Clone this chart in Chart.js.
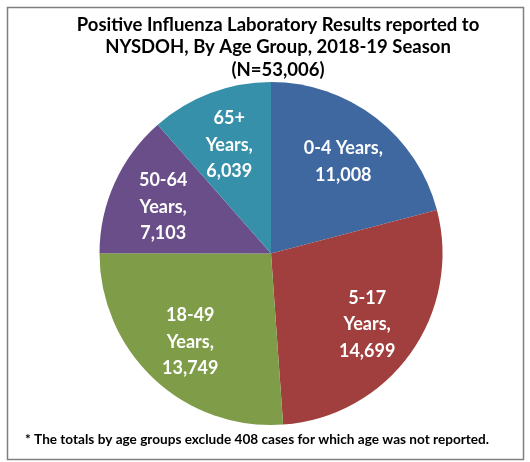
<!DOCTYPE html>
<html>
<head>
<meta charset="utf-8">
<script src="https://cdn.jsdelivr.net/npm/chart.js@4/dist/chart.umd.min.js"></script>
<style>
    body { margin: 0; background: #fff; }
    #wrap { width: 530px; height: 462px; }
</style>
</head>
<body>
<div id="wrap"><canvas id="pie"></canvas></div>
<script>
// data
const groups = ['0-4 Years,', '5-17 Years,', '18-49 Years,', '50-64 Years,', '65+ Years,'];
const counts = [11008, 14699, 13749, 7103, 6039];
const colors = ['#3f68a0', '#a03f3e', '#7f9c48', '#6a4e89', '#3790a9'];
// how each label is broken into lines
const labelLines = [
    ['0-4 Years,', '11,008'],
    ['5-17', 'Years,', '14,699'],
    ['18-49', 'Years,', '13,749'],
    ['50-64', 'Years,', '7,103'],
    ['65+', 'Years,', '6,039']
];
const titleLines = [
    'Positive Influenza Laboratory Results reported to',
    'NYSDOH, By Age Group, 2018-19 Season',
    '(N=53,006)'
];
const footNote = '* The totals by age groups exclude 408 cases for which age was not reported.';

const FONT = 'Lato, "Open Sans", sans-serif';

// frame, title and footnote
const frame = {
    id: 'frame',
    afterDraw(chart) {
        const ctx = chart.ctx;
        ctx.save();
        ctx.strokeStyle = '#808080';
        ctx.lineWidth = 1.5;
        ctx.strokeRect(7.5, 7.5, 516, 452);
        ctx.fillStyle = '#000';
        ctx.textAlign = 'center';
        ctx.textBaseline = 'middle';
        ctx.font = 'bold 18.5px ' + FONT;
        titleLines.forEach((t, i) => {
            ctx.fillText(t, 278, 25 + i * 22.5);
        });
        ctx.font = 'bold 13.6px ' + FONT;
        ctx.fillText(footNote, 257, 440);
        ctx.restore();
    }
};

// slice labels, placed along each slice's middle angle
const sliceLabels = {
    id: 'sliceLabels',
    afterDatasetsDraw(chart) {
        const ctx = chart.ctx;
        const meta = chart.getDatasetMeta(0);
        ctx.save();
        ctx.fillStyle = '#fff';
        ctx.textAlign = 'center';
        ctx.textBaseline = 'middle';
        ctx.font = 'bold 18px ' + FONT;
        meta.data.forEach((arc, i) => {
            const p = arc.getProps(['x', 'y', 'startAngle', 'endAngle', 'outerRadius']);
            const mid = (p.startAngle + p.endAngle) / 2;
            const r = p.outerRadius * 0.69;
            const cx = p.x + Math.cos(mid) * r;
            const cy = p.y + Math.sin(mid) * r + 2;
            const lines = labelLines[i];
            const lh = 26.5;
            lines.forEach((t, j) => {
                ctx.fillText(t, cx, cy + (j - (lines.length - 1) / 2) * lh);
            });
        });
        ctx.restore();
    }
};

new Chart(document.getElementById('pie'), {
    type: 'pie',
    data: {
        labels: groups,
        datasets: [{
            data: counts,
            backgroundColor: colors,
            borderWidth: 0
        }]
    },
    options: {
        responsive: true,
        maintainAspectRatio: false,
        animation: false,
        layout: { padding: { top: 82, bottom: 37, left: 20, right: 8 } },
        plugins: {
            legend: { display: false },
            tooltip: { enabled: false },
            title: { display: false }
        }
    },
    plugins: [frame, sliceLabels]
});
</script>
</body>
</html>
